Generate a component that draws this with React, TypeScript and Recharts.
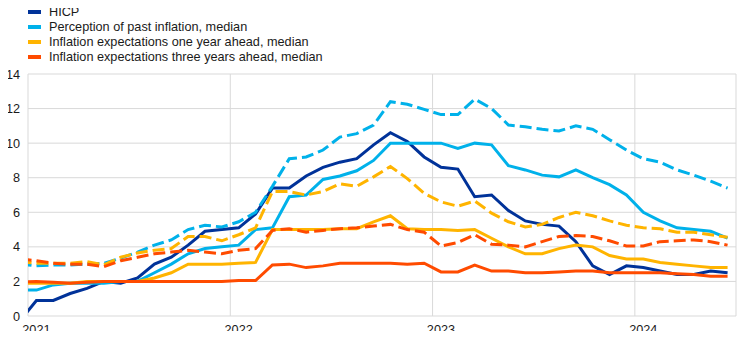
import { LineChart, Line, XAxis, YAxis, CartesianGrid, Legend } from "recharts";

// monthly observations, Dec 2020 .. Jun 2024 (Dec 2020 sits left of the axis and gets clipped)
const months = [
  "2020-12",
  "2021-01", "2021-02", "2021-03", "2021-04", "2021-05", "2021-06",
  "2021-07", "2021-08", "2021-09", "2021-10", "2021-11", "2021-12",
  "2022-01", "2022-02", "2022-03", "2022-04", "2022-05", "2022-06",
  "2022-07", "2022-08", "2022-09", "2022-10", "2022-11", "2022-12",
  "2023-01", "2023-02", "2023-03", "2023-04", "2023-05", "2023-06",
  "2023-07", "2023-08", "2023-09", "2023-10", "2023-11", "2023-12",
  "2024-01", "2024-02", "2024-03", "2024-04", "2024-05", "2024-06",
];

const hicp = [
  -0.3,
  0.9, 0.9, 1.3, 1.6, 2.0, 1.9, 2.2, 3.0, 3.4, 4.1, 4.9, 5.0,
  5.1, 5.9, 7.4, 7.4, 8.1, 8.6, 8.9, 9.1, 9.9, 10.6, 10.1, 9.2,
  8.6, 8.5, 6.9, 7.0, 6.1, 5.5, 5.3, 5.2, 4.3, 2.9, 2.4, 2.9,
  2.8, 2.6, 2.4, 2.4, 2.6, 2.5,
];

const pastMedian = [
  1.5,
  1.5, 1.8, 1.9, 1.9, 1.9, 2.0, 2.0, 2.5, 3.0, 3.6, 3.9, 4.0,
  4.1, 5.0, 5.1, 6.9, 7.0, 7.9, 8.1, 8.4, 9.0, 10.0, 10.0, 10.0,
  10.0, 9.7, 10.0, 9.9, 8.7, 8.45, 8.15, 8.05, 8.45, 8.0, 7.6, 7.0,
  6.0, 5.5, 5.1, 5.0, 4.9, 4.5,
];

const pastMean = [
  3.0,
  2.9, 2.95, 2.95, 3.0, 3.05, 3.35, 3.7, 4.1, 4.4, 5.0, 5.25, 5.15,
  5.45, 6.0, 7.5, 9.1, 9.2, 9.6, 10.35, 10.55, 11.05, 12.4, 12.25, 11.95,
  11.65, 11.65, 12.55, 12.0, 11.05, 10.95, 10.8, 10.7, 11.0, 10.8, 10.2, 9.6,
  9.1, 8.9, 8.45, 8.15, 7.8, 7.4,
];

const oneYearMedian = [
  1.9,
  1.9, 1.9, 1.9, 2.0, 2.0, 2.0, 2.0, 2.2, 2.5, 3.0, 3.0, 3.0,
  3.05, 3.1, 5.0, 5.0, 5.0, 5.0, 5.05, 5.05, 5.45, 5.8, 5.05, 5.0,
  5.0, 4.95, 5.0, 4.5, 4.0, 3.6, 3.6, 3.9, 4.1, 4.0, 3.5, 3.3,
  3.3, 3.1, 3.0, 2.9, 2.8, 2.8,
];

const oneYearMean = [
  3.15,
  3.05, 3.05, 3.05, 3.15, 2.95, 3.4, 3.65, 3.8, 3.9, 4.6, 4.6, 4.35,
  4.7, 5.1, 7.2, 7.2, 7.0, 7.2, 7.65, 7.5, 8.05, 8.65, 7.95, 7.1,
  6.6, 6.35, 6.65, 5.95, 5.45, 5.15, 5.3, 5.7, 6.0, 5.8, 5.5, 5.25,
  5.1, 5.05, 4.85, 4.85, 4.7, 4.55,
];

const threeYearMedian = [
  1.95,
  2.0, 1.95, 1.9, 1.95, 2.0, 2.0, 2.0, 2.0, 2.0, 2.0, 2.0, 2.0,
  2.05, 2.05, 2.95, 3.0, 2.8, 2.9, 3.05, 3.05, 3.05, 3.05, 3.0, 3.05,
  2.55, 2.55, 2.95, 2.6, 2.6, 2.5, 2.5, 2.55, 2.6, 2.6, 2.5, 2.5,
  2.5, 2.5, 2.45, 2.4, 2.3, 2.3,
];

const threeYearMean = [
  3.3,
  3.2, 3.05, 3.0, 3.0, 2.85, 3.2, 3.4, 3.6, 3.7, 3.8, 3.7, 3.6,
  3.8, 3.9, 4.95, 5.05, 4.85, 4.95, 5.05, 5.1, 5.2, 5.3, 5.0, 4.85,
  4.05, 4.25, 4.7, 4.15, 4.1, 4.0, 4.3, 4.6, 4.65, 4.6, 4.35, 4.05,
  4.05, 4.3, 4.35, 4.4, 4.3, 4.1,
];

const yearLabels = ["2021", "2022", "2023", "2024"];
const xTicks = [0, 12, 24, 36, 42];
const yTicks = [0, 2, 4, 6, 8, 10, 12, 14];

const DARK_BLUE = "#003299";
const LIGHT_BLUE = "#00b1ea";
const YELLOW = "#ffb400";
const ORANGE = "#ff4b00";
const FONT = "'Liberation Sans', Arial, sans-serif";
const TEXT = "#1a1a1a";

// x = months since 1 Jan 2021, each observation sits mid-month
const data = months.map((month, i) => ({
  month,
  t: i - 0.5,
  hicp: hicp[i],
  pastMedian: pastMedian[i],
  pastMean: pastMean[i],
  oneYearMedian: oneYearMedian[i],
  oneYearMean: oneYearMean[i],
  threeYearMedian: threeYearMedian[i],
  threeYearMean: threeYearMean[i],
}));

const legendItems = [
  { label: "HICP", color: DARK_BLUE },
  { label: "Perception of past inflation, median", color: LIGHT_BLUE },
  { label: "Inflation expectations one year ahead, median", color: YELLOW },
  { label: "Inflation expectations three years ahead, median", color: ORANGE },
];

function ChartLegend() {
  return (
    <div style={{ fontFamily: FONT, fontSize: 12.7, color: TEXT }}>
      {legendItems.map((item) => (
        <div
          key={item.label}
          style={{ display: "flex", alignItems: "center", height: 15, whiteSpace: "nowrap" }}
        >
          <span
            style={{ display: "inline-block", width: 13, height: 4, background: item.color, marginRight: 8 }}
          />
          {item.label}
        </div>
      ))}
    </div>
  );
}

function YearTick(props: any) {
  const { x, y, index } = props;
  if (index >= yearLabels.length) return <g />;
  return (
    <text x={x + 8.4} y={y + 1} dy="0.71em" textAnchor="middle" fill={TEXT} fontSize={12.7} fontFamily={FONT}>
      {yearLabels[index]}
    </text>
  );
}

export default function App() {
  return (
    <div style={{ margin: -8, width: 745, height: 339, background: "#fff" }}>
      <LineChart width={745} height={339} data={data} margin={{ top: 74, right: 9, bottom: 0, left: 0 }}>
        <CartesianGrid stroke="#d9d9d9" strokeWidth={1} />
        <XAxis
          dataKey="t"
          type="number"
          domain={[0, 42]}
          allowDataOverflow
          ticks={xTicks}
          interval={0}
          tick={<YearTick />}
          tickLine={false}
          axisLine={false}
          height={23}
        />
        <YAxis
          type="number"
          domain={[0, 14]}
          allowDataOverflow
          ticks={yTicks}
          interval={0}
          tickLine={false}
          axisLine={false}
          width={28}
          tick={{ fill: TEXT, fontSize: 12.7, fontFamily: FONT }}
        />
        <Legend
          content={<ChartLegend />}
          layout="horizontal"
          verticalAlign="middle"
          align="center"
          wrapperStyle={{ top: 4.5, left: 28, width: 400, height: 60 }}
        />
        <Line type="linear" dataKey="hicp" name="HICP" stroke={DARK_BLUE} strokeWidth={3} dot={false} isAnimationActive={false} />
        <Line type="linear" dataKey="pastMedian" name="Perception of past inflation, median" stroke={LIGHT_BLUE} strokeWidth={3} dot={false} isAnimationActive={false} />
        <Line type="linear" dataKey="oneYearMedian" name="Inflation expectations one year ahead, median" stroke={YELLOW} strokeWidth={3} dot={false} isAnimationActive={false} />
        <Line type="linear" dataKey="threeYearMedian" name="Inflation expectations three years ahead, median" stroke={ORANGE} strokeWidth={3} dot={false} isAnimationActive={false} />
        <Line type="linear" dataKey="pastMean" name="Perception of past inflation, mean" stroke={LIGHT_BLUE} strokeWidth={3} strokeDasharray="12 5" dot={false} isAnimationActive={false} />
        <Line type="linear" dataKey="oneYearMean" name="Inflation expectations one year ahead, mean" stroke={YELLOW} strokeWidth={3} strokeDasharray="12 5" dot={false} isAnimationActive={false} />
        <Line type="linear" dataKey="threeYearMean" name="Inflation expectations three years ahead, mean" stroke={ORANGE} strokeWidth={3} strokeDasharray="12 5" dot={false} isAnimationActive={false} />
      </LineChart>
    </div>
  );
}
